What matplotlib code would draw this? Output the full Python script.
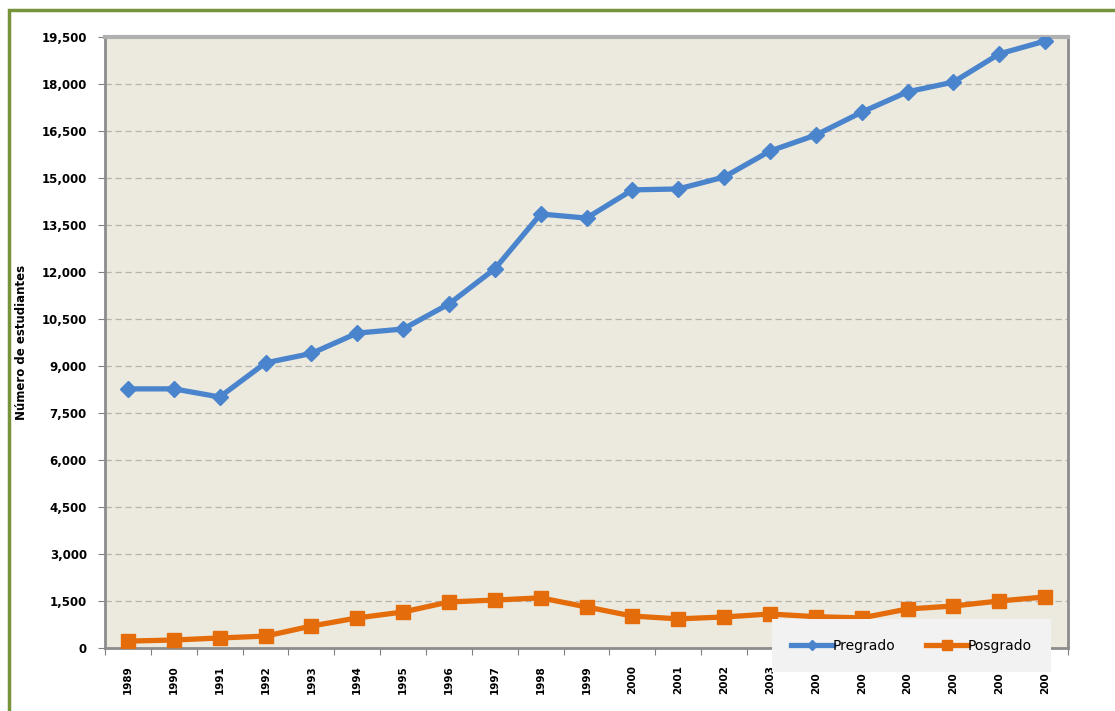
'''
Estudiantes de pregrado y posgrado, 1989-2009.
'''

import matplotlib.pyplot as plt
from matplotlib.patches import Rectangle

plt.rcParams['font.family'] = ['Liberation Sans Narrow', 'DejaVu Sans']

years = ['1989', '1990', '1991', '1992', '1993', '1994', '1995', '1996', '1997', '1998',
         '1999', '2000', '2001', '2002', '2003', '200', '200', '200', '200', '200', '200']
pregrado = [8270, 8270, 8010, 9100, 9400, 10050, 10180, 10980, 12100, 13850,
            13720, 14620, 14650, 15030, 15860, 16370, 17100, 17750, 18060, 18960, 19370]
posgrado = [220, 255, 320, 380, 700, 960, 1150, 1470, 1530, 1600,
            1310, 1020, 930, 990, 1085, 1000, 960, 1245, 1340, 1500, 1630]
yticks = list(range(0, 19501, 1500))


def plot():
    fig = plt.figure(figsize=(11.15, 7.11), dpi=100)
    ax = fig.add_axes([0.0942, 0.0886, 0.8637, 0.8594])
    ax.set_facecolor('#ECEADF')

    x = range(len(years))
    ax.plot(x, pregrado, color='#4A84CC', lw=3.8, marker='D', ms=8,
            label='Pregrado', zorder=3)
    ax.plot(x, posgrado, color='#E46C0A', lw=3.8, marker='s', ms=10,
            label='Posgrado', zorder=3)

    ax.set_xlim(-0.5, len(years) - 0.5)
    ax.set_ylim(0, 19500)
    ax.set_yticks(yticks)
    ax.set_yticklabels([f'{v:,}' for v in yticks], fontsize=8.5, fontweight='bold')
    ax.yaxis.grid(True, ls=(0, (5, 3)), color='#B5B5B0', lw=0.9)
    ax.set_axisbelow(True)

    # Excel-style: ticks between categories, labels bottom-aligned
    ax.tick_params(axis='x', which='minor', length=0, pad=33)
    ax.tick_params(axis='x', which='major', length=5, color='#808080', direction='out')
    ax.tick_params(axis='y', length=5, color='#808080', direction='out', pad=8)
    ax.set_xticks([i - 0.5 for i in range(len(years) + 1)], minor=False)
    ax.set_xticklabels([])
    ax.set_xticks(list(x), minor=True)
    ax.set_xticklabels(years, minor=True, rotation=90, fontsize=7.5,
                       fontweight='bold', va='bottom')

    for s in ['left', 'right', 'bottom']:
        ax.spines[s].set_color('#8C8C8C')
        ax.spines[s].set_linewidth(2)
    ax.spines['top'].set_color('#B0B0B0')
    ax.spines['top'].set_linewidth(3)

    ax.set_ylabel('Número de estudiantes', fontsize=8.5, fontweight='bold', labelpad=10)

    leg = fig.legend(loc='center', bbox_to_anchor=(0.686, 0.055, 0.263, 0.073),
                     mode='expand', ncol=2, fontsize=10, handlelength=3.0,
                     handletextpad=0, markerscale=0.7, borderpad=1.4,
                     fancybox=False)
    leg.get_frame().set_facecolor('#F2F2F2')
    leg.get_frame().set_edgecolor('none')
    leg.get_frame().set_alpha(1)

    fig.patches.append(Rectangle((9 / 1115, -0.1), 1.2, (711 - 10) / 711 + 0.1,
                                 transform=fig.transFigure, fill=False,
                                 edgecolor='#77933C', lw=2.5, clip_on=False))

    plt.savefig('out.png', dpi=100)


if __name__ == "__main__":

    plot()
